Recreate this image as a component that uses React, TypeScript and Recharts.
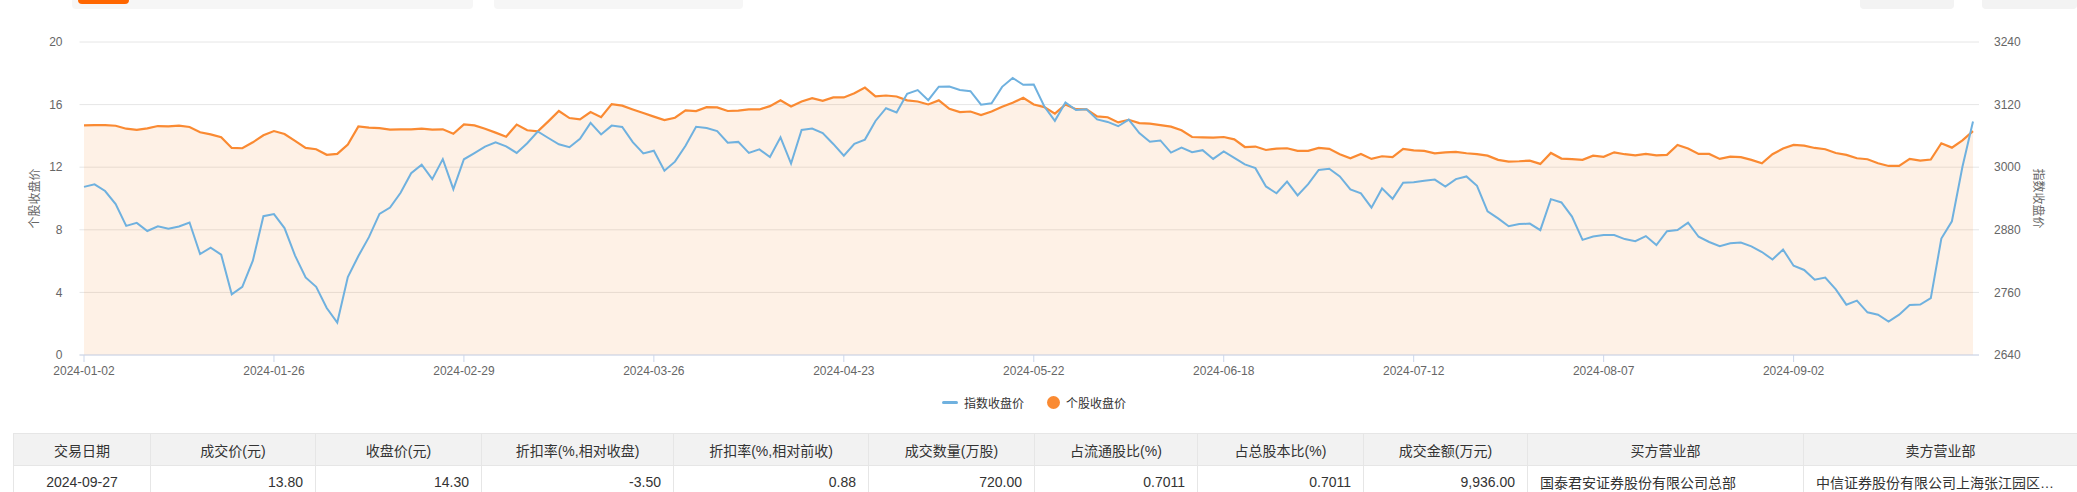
import React from "react";
import { ComposedChart, Area, Line, XAxis, YAxis, CartesianGrid, Legend, Label } from "recharts";

// 2024 trading days, month -> days
const tradingDays: [string, number[]][] = [
  ["01", [2, 3, 4, 5, 8, 9, 10, 11, 12, 15, 16, 17, 18, 19, 22, 23, 24, 25, 26, 29, 30, 31]],
  ["02", [1, 2, 5, 6, 7, 8, 19, 20, 21, 22, 23, 26, 27, 28, 29]],
  ["03", [1, 4, 5, 6, 7, 8, 11, 12, 13, 14, 15, 18, 19, 20, 21, 22, 25, 26, 27, 28, 29]],
  ["04", [1, 2, 3, 8, 9, 10, 11, 12, 15, 16, 17, 18, 19, 22, 23, 24, 25, 26, 29, 30]],
  ["05", [6, 7, 8, 9, 10, 13, 14, 15, 16, 17, 20, 21, 22, 23, 24, 27, 28, 29, 30, 31]],
  ["06", [3, 4, 5, 6, 7, 11, 12, 13, 14, 17, 18, 19, 20, 21, 24, 25, 26, 27, 28]],
  ["07", [1, 2, 3, 4, 5, 8, 9, 10, 11, 12, 15, 16, 17, 18, 19, 22, 23, 24, 25, 26, 29, 30, 31]],
  ["08", [1, 2, 5, 6, 7, 8, 9, 12, 13, 14, 15, 16, 19, 20, 21, 22, 23, 26, 27, 28, 29, 30]],
  ["09", [2, 3, 4, 5, 6, 9, 10, 11, 12, 13, 18, 19, 20, 23, 24, 25, 26, 27]],
];

const dates = tradingDays.flatMap(([m, days]) =>
  days.map((d) => `2024-${m}-${String(d).padStart(2, "0")}`)
);

// 指数收盘价 (right axis)
const indexClose = [
  2962.28, 2967.25, 2954.35, 2929.18, 2887.54, 2893.25, 2877.7, 2886.65, 2881.98, 2886.29,
  2893.99, 2833.62, 2845.78, 2832.28, 2756.34, 2770.74, 2820.77, 2906.11, 2910.22, 2883.36,
  2830.53, 2788.55, 2770.74, 2730.15, 2702.19, 2789.49, 2829.7, 2865.9, 2910.54, 2922.73,
  2950.96, 2988.36, 3004.88, 2977.02, 3015.48, 2957.85, 3015.17, 3027.02, 3039.31, 3047.79,
  3039.93, 3027.4, 3046.02, 3068.46, 3055.94, 3043.83, 3038.23, 3054.64, 3084.93, 3062.76,
  3079.69, 3077.11, 3048.03, 3026.31, 3031.48, 2993.14, 3010.66, 3041.17, 3077.38, 3074.96,
  3069.3, 3047.05, 3048.54, 3027.34, 3034.25, 3019.47, 3057.38, 3007.07, 3071.38, 3074.22,
  3065.26, 3044.6, 3021.98, 3044.82, 3052.9, 3088.64, 3113.04, 3104.82, 3140.72, 3147.74,
  3128.48, 3154.32, 3154.55, 3148.02, 3145.77, 3119.9, 3122.4, 3154.03, 3171.15, 3157.97,
  3158.54, 3116.39, 3088.87, 3124.04, 3109.57, 3111.02, 3091.68, 3086.81, 3078.49, 3091.2,
  3065.4, 3048.79, 3051.28, 3028.05, 3037.47, 3028.92, 3032.63, 3015.89, 3030.25, 3018.05,
  3005.44, 2998.14, 2963.1, 2950.01, 2972.53, 2945.85, 2967.4, 2994.73, 2997.01, 2982.38,
  2957.57, 2949.93, 2922.45, 2959.37, 2939.36, 2970.39, 2971.3, 2974.01, 2976.3, 2962.75,
  2977.13, 2982.31, 2964.22, 2915.37, 2901.95, 2886.75, 2890.9, 2891.85, 2879.3, 2938.75,
  2932.39, 2905.34, 2860.7, 2867.28, 2869.9, 2869.83, 2862.19, 2858.2, 2867.95, 2850.65,
  2877.36, 2879.43, 2893.67, 2866.66, 2856.58, 2848.77, 2854.37, 2855.52, 2848.18, 2837.43,
  2823.11, 2842.21, 2811.04, 2802.98, 2784.28, 2788.31, 2765.81, 2736.49, 2744.19, 2721.8,
  2717.12, 2704.09, 2717.28, 2736.02, 2736.81, 2748.92, 2863.13, 2896.31, 3000.95, 3087.53,
];

// 个股收盘价 (left axis)
const stockClose = [
  14.67, 14.69, 14.69, 14.65, 14.46, 14.38, 14.48, 14.63, 14.61, 14.65,
  14.57, 14.23, 14.1, 13.91, 13.23, 13.21, 13.59, 14.04, 14.31, 14.12,
  13.68, 13.23, 13.15, 12.79, 12.85, 13.44, 14.61, 14.53, 14.5, 14.4,
  14.42, 14.42, 14.46, 14.4, 14.42, 14.14, 14.74, 14.67, 14.46, 14.21,
  13.95, 14.72, 14.36, 14.29, 14.93, 15.59, 15.14, 15.06, 15.52, 15.2,
  16.03, 15.93, 15.69, 15.46, 15.23, 15.01, 15.16, 15.63, 15.59, 15.84,
  15.82, 15.59, 15.61, 15.69, 15.69, 15.9, 16.27, 15.88, 16.2, 16.41,
  16.24, 16.46, 16.46, 16.73, 17.09, 16.52, 16.58, 16.52, 16.27, 16.2,
  16.01, 16.27, 15.73, 15.52, 15.56, 15.33, 15.56, 15.86, 16.12, 16.43,
  16.01, 15.84, 15.42, 16.01, 15.71, 15.69, 15.25, 15.19, 14.86, 15.03,
  14.82, 14.78, 14.69, 14.59, 14.36, 13.93, 13.91, 13.89, 13.93, 13.78,
  13.29, 13.32, 13.1, 13.19, 13.21, 13.04, 13.04, 13.23, 13.17, 12.83,
  12.57, 12.85, 12.53, 12.7, 12.64, 13.17, 13.08, 13.04, 12.89, 12.95,
  12.98, 12.89, 12.83, 12.74, 12.47, 12.36, 12.38, 12.42, 12.21, 12.91,
  12.55, 12.51, 12.47, 12.74, 12.66, 12.95, 12.83, 12.76, 12.85, 12.76,
  12.79, 13.42, 13.19, 12.85, 12.85, 12.53, 12.68, 12.64, 12.47, 12.25,
  12.83, 13.19, 13.42, 13.38, 13.23, 13.15, 12.91, 12.79, 12.57, 12.51,
  12.25, 12.08, 12.08, 12.53, 12.42, 12.49, 13.53, 13.25, 13.72, 14.3,
];

const leftTicks = [0, 4, 8, 12, 16, 20];
const rightTicks = [2640, 2760, 2880, 3000, 3120, 3240];
const seriesNames = ["指数收盘价", "个股收盘价"];
const axisTitles = ["个股收盘价", "指数收盘价"];

const tableHeaders = [
  "交易日期", "成交价(元)", "收盘价(元)", "折扣率(%,相对收盘)", "折扣率(%,相对前收)",
  "成交数量(万股)", "占流通股比(%)", "占总股本比(%)", "成交金额(万元)", "买方营业部", "卖方营业部",
];
const tableRow = [
  "2024-09-27", "13.80", "14.30", "-3.50", "0.88", "720.00", "0.7011", "0.7011", "9,936.00",
  "国泰君安证券股份有限公司总部", "中信证券股份有限公司上海张江园区营业部",
];
const colWidths = [137, 165, 166, 192, 195, 166, 163, 166, 164, 276, 274];
const colAlign: ("center" | "right" | "left")[] = [
  "center", "right", "right", "right", "right", "right", "right", "right", "right", "left", "left",
];

const BLUE = "#6fb1df";
const ORANGE = "#fa8a32";
const FONT = '"Liberation Sans", "Noto Sans CJK SC", sans-serif';

const data = dates.map((date, i) => ({ date, index: indexClose[i], stock: stockClose[i] }));

const LegendContent = () => (
  <div style={{ display: "flex", alignItems: "center", height: 16, paddingLeft: 942, fontSize: 12, color: "#333" }}>
    <span style={{ width: 16, height: 3, borderRadius: 1.5, background: BLUE }} />
    <span style={{ marginLeft: 6 }}>{seriesNames[0]}</span>
    <span style={{ width: 13, height: 13, borderRadius: "50%", background: ORANGE, marginLeft: 23 }} />
    <span style={{ marginLeft: 6 }}>{seriesNames[1]}</span>
  </div>
);

const axisTitle = (text: string, dx: number, angle: number) => (props: any) => {
  const vb = props.viewBox;
  const cx = vb.x + dx;
  const cy = vb.y + vb.height / 2;
  return (
    <text x={cx} y={cy} transform={`rotate(${angle} ${cx} ${cy})`} textAnchor="middle" dominantBaseline="central" fontSize={12} fill="#666">
      {text}
    </text>
  );
};

const panel = (left: number, width: number, height: number, bg: string): React.CSSProperties => ({
  position: "absolute", left, top: 0, width, height, background: bg, borderRadius: "0 0 4px 4px",
});

const cell: React.CSSProperties = {
  border: "1px solid #e6e6e6", padding: "0 12px", height: 31, whiteSpace: "nowrap",
  overflow: "hidden", textOverflow: "ellipsis", color: "#333",
};

export default function App() {
  return (
    <div style={{ position: "absolute", left: 0, top: 0, width: 2077, height: 492, overflow: "hidden", background: "#fff", fontFamily: FONT }}>
      <div style={panel(72, 401, 9, "#f6f6f6")} />
      <div style={panel(78, 51, 4, "#ff6600")} />
      <div style={panel(494, 249, 9, "#f6f6f6")} />
      <div style={panel(1860, 94, 9, "#f3f3f3")} />
      <div style={panel(1982, 95, 9, "#f3f3f3")} />

      <div style={{ position: "absolute", left: 0, top: 0 }}>
        <ComposedChart width={2077} height={420} data={data} margin={{ top: 42, right: 0, bottom: 35, left: 0 }}>
          <CartesianGrid yAxisId="left" vertical={false} stroke="#e6e6e6" />
          <XAxis
            dataKey="date"
            interval={17}
            padding={{ left: 4.5, right: 6 }}
            height={30}
            tickSize={7}
            tickMargin={4}
            axisLine={{ stroke: "#ccd6eb" }}
            tickLine={{ stroke: "#ccd6eb" }}
            tick={{ fontSize: 12, fill: "#666" }}
          />
          <YAxis
            yAxisId="left"
            domain={[0, 20]}
            ticks={leftTicks}
            width={79.5}
            axisLine={false}
            tickLine={false}
            tickSize={0}
            tickMargin={17}
            tick={{ fontSize: 12, fill: "#666" }}
            label={<Label content={axisTitle(axisTitles[0], 34.5, -90)} />}
          />
          <YAxis
            yAxisId="right"
            orientation="right"
            domain={[2640, 3240]}
            ticks={rightTicks}
            width={98}
            axisLine={false}
            tickLine={false}
            tickSize={0}
            tickMargin={15}
            tick={{ fontSize: 12, fill: "#666" }}
            label={<Label content={axisTitle(axisTitles[1], 59, 90)} />}
          />
          <Area
            yAxisId="left"
            type="linear"
            dataKey="stock"
            name={seriesNames[1]}
            stroke={ORANGE}
            strokeWidth={2.2}
            fill={ORANGE}
            fillOpacity={0.12}
            dot={false}
            activeDot={false}
            isAnimationActive={false}
          />
          <Line
            yAxisId="right"
            type="linear"
            dataKey="index"
            name={seriesNames[0]}
            stroke={BLUE}
            strokeWidth={2}
            dot={false}
            activeDot={false}
            isAnimationActive={false}
          />
          <Legend
            verticalAlign="middle"
            align="center"
            layout="horizontal"
            content={LegendContent}
            wrapperStyle={{ top: 394, left: 0, width: 2077, height: 16 }}
          />
        </ComposedChart>
      </div>

      <table
        style={{
          position: "absolute", left: 13, top: 433, width: 2064, tableLayout: "fixed",
          borderCollapse: "collapse", fontSize: 14, fontFamily: FONT,
        }}
      >
        <colgroup>
          {colWidths.map((w, i) => (
            <col key={i} style={{ width: w }} />
          ))}
        </colgroup>
        <thead>
          <tr style={{ background: "#f2f2f2" }}>
            {tableHeaders.map((h, i) => (
              <th key={i} style={{ ...cell, fontWeight: "normal", textAlign: "center" }}>{h}</th>
            ))}
          </tr>
        </thead>
        <tbody>
          <tr>
            {tableRow.map((v, i) => (
              <td key={i} style={{ ...cell, textAlign: colAlign[i] }}>{v}</td>
            ))}
          </tr>
        </tbody>
      </table>
    </div>
  );
}
